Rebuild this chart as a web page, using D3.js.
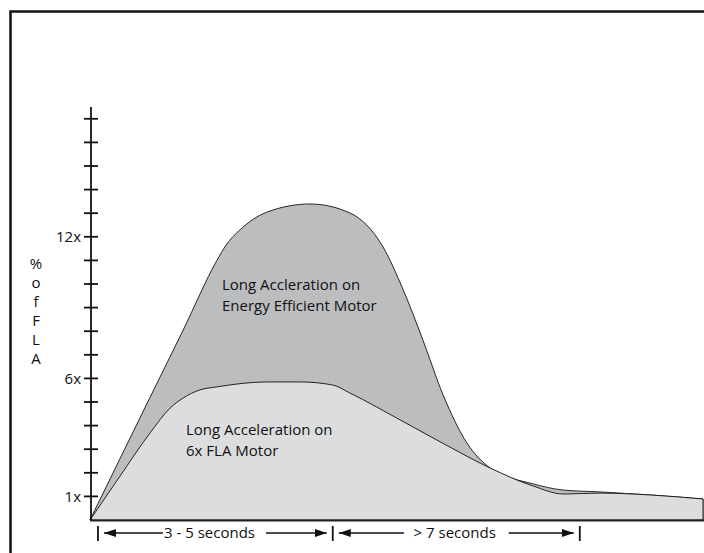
<!DOCTYPE html>
<html lang="en">
<head>
<meta charset="UTF-8">
<title>Motor acceleration current</title>
<script src="https://cdn.jsdelivr.net/npm/d3@7"></script>
<style>
    body { margin: 0; background: #fff; }
    svg text { font-family: "Open Sans", "Noto Sans", sans-serif; fill: #111; }
</style>
</head>
<body>
<div id="chart"></div>
<script>
    // time (arbitrary units, 0..10) and current in multiples of FLA
    const effX = [0, 0.98, 1.52, 2.07, 2.22, 2.45, 2.89, 3.59, 4.24, 4.78, 5.11, 5.43, 5.76, 6.15, 6.53, 7.23, 7.72, 8.32, 9.14, 10];
    const effY = [0, 5.2, 8.05, 11.0, 11.65, 12.3, 13.05, 13.39, 13.01, 11.57, 9.75, 7.63, 5.30, 3.26, 2.20, 1.53, 1.27, 1.19, 1.06, 0.89];

    const flaX = [0, 0.49, 0.98, 1.31, 1.52, 1.79, 2.07, 2.89, 3.43, 3.96, 4.24, 5.06, 5.87, 6.53, 7.23, 7.72, 8.32, 9.14, 10];
    const flaY = [0, 1.86, 3.69, 4.75, 5.17, 5.51, 5.64, 5.85, 5.85, 5.72, 5.38, 4.24, 3.09, 2.20, 1.44, 1.10, 1.14, 1.06, 0.89];

    const yTicks = d3.range(1, 18);
    const yLabels = {1: "1x", 6: "6x", 12: "12x"};
    const yTitle = ["%", "o", "f", "F", "L", "A"];

    const markers = [0.13, 3.96, 7.99];
    const spans = [
        {from: 0.13, to: 3.96, label: "3 - 5 seconds", gap: [1.19, 2.87], mid: 1.95},
        {from: 3.96, to: 7.99, label: "> 7 seconds", gap: [5.12, 6.83], mid: 5.95}
    ];

    const width = 704, height = 553;
    const x = d3.scaleLinear().domain([0, 10]).range([90, 703]);
    const y = d3.scaleLinear().domain([0, 17.5]).range([520, 107]);

    const svg = d3.select("#chart").append("svg")
        .attr("width", width)
        .attr("height", height);

    // frame (only top and left edges show)
    svg.append("path")
        .attr("d", `M10.5,${height + 5} V11.5 H${width + 5}`)
        .attr("fill", "none")
        .attr("stroke", "#111")
        .attr("stroke-width", 2.5);

    const area = (xs, ys) => d3.area()
        .x((d, i) => x(xs[i]))
        .y0(y(0))
        .y1((d, i) => y(ys[i]))
        .curve(d3.curveMonotoneX)(ys);

    svg.append("path")
        .attr("d", area(effX, effY) + "Z")
        .attr("fill", "#bcbdbf")
        .attr("stroke", "#111")
        .attr("stroke-width", 0.9);

    svg.append("path")
        .attr("d", area(flaX, flaY) + "Z")
        .attr("fill", "#dcdddf")
        .attr("stroke", "#111")
        .attr("stroke-width", 0.9);

    // base line
    svg.append("line")
        .attr("x1", x(0)).attr("x2", width)
        .attr("y1", y(0) + 0.5).attr("y2", y(0) + 0.5)
        .attr("stroke", "#222").attr("stroke-width", 2);

    // y axis with crossing ticks
    const yAxis = svg.append("g");
    yAxis.append("line")
        .attr("x1", 91).attr("x2", 91)
        .attr("y1", y(17.5)).attr("y2", y(0))
        .attr("stroke", "#111").attr("stroke-width", 1.8);
    yAxis.selectAll(".tick")
        .data(yTicks)
        .join("line")
        .attr("class", "tick")
        .attr("x1", 84).attr("x2", 98)
        .attr("y1", d => y(d)).attr("y2", d => y(d))
        .attr("stroke", "#111").attr("stroke-width", 1.8);
    yAxis.selectAll(".lbl")
        .data(Object.keys(yLabels))
        .join("text")
        .attr("class", "lbl")
        .attr("x", 81)
        .attr("y", d => y(+d))
        .attr("dy", "0.35em")
        .attr("text-anchor", "end")
        .attr("font-size", 15)
        .text(d => yLabels[d]);

    svg.selectAll(".ytitle")
        .data(yTitle)
        .join("text")
        .attr("class", "ytitle")
        .attr("x", 36)
        .attr("y", (d, i) => 264 + i * 19)
        .attr("dy", "0.35em")
        .attr("text-anchor", "middle")
        .attr("font-size", 15)
        .text(d => d);

    // series labels
    const notes = [
        {x: 222, y: 285, lines: ["Long Accleration on", "Energy Efficient Motor"]},
        {x: 186, y: 430, lines: ["Long Acceleration on", "6x FLA Motor"]}
    ];
    notes.forEach(n => {
        svg.append("text")
            .attr("font-size", 15)
            .selectAll("tspan")
            .data(n.lines)
            .join("tspan")
            .attr("x", n.x)
            .attr("y", (d, i) => n.y + i * 21)
            .attr("dy", "0.35em")
            .text(d => d);
    });

    // time brackets under the axis
    const defs = svg.append("defs");
    defs.append("marker")
        .attr("id", "arr")
        .attr("viewBox", "0 0 12 8")
        .attr("refX", 12).attr("refY", 4)
        .attr("markerWidth", 12).attr("markerHeight", 8)
        .attr("markerUnits", "userSpaceOnUse")
        .attr("orient", "auto")
        .append("path")
        .attr("d", "M0,0 L12,4 L0,8 Z")
        .attr("fill", "#111");

    const ay = 533;
    svg.selectAll(".mark")
        .data(markers)
        .join("line")
        .attr("class", "mark")
        .attr("x1", d => x(d)).attr("x2", d => x(d))
        .attr("y1", 526).attr("y2", 541)
        .attr("stroke", "#111").attr("stroke-width", 1.8);

    spans.forEach(s => {
        svg.append("line")
            .attr("x1", x(s.gap[0])).attr("x2", x(s.from) + 6)
            .attr("y1", ay).attr("y2", ay)
            .attr("stroke", "#111").attr("stroke-width", 1.3)
            .attr("marker-end", "url(#arr)");
        svg.append("line")
            .attr("x1", x(s.gap[1])).attr("x2", x(s.to) - 6)
            .attr("y1", ay).attr("y2", ay)
            .attr("stroke", "#111").attr("stroke-width", 1.3)
            .attr("marker-end", "url(#arr)");
        svg.append("text")
            .attr("x", x(s.mid))
            .attr("y", ay)
            .attr("dy", "0.35em")
            .attr("text-anchor", "middle")
            .attr("font-size", 15)
            .text(s.label);
    });
</script>
</body>
</html>
